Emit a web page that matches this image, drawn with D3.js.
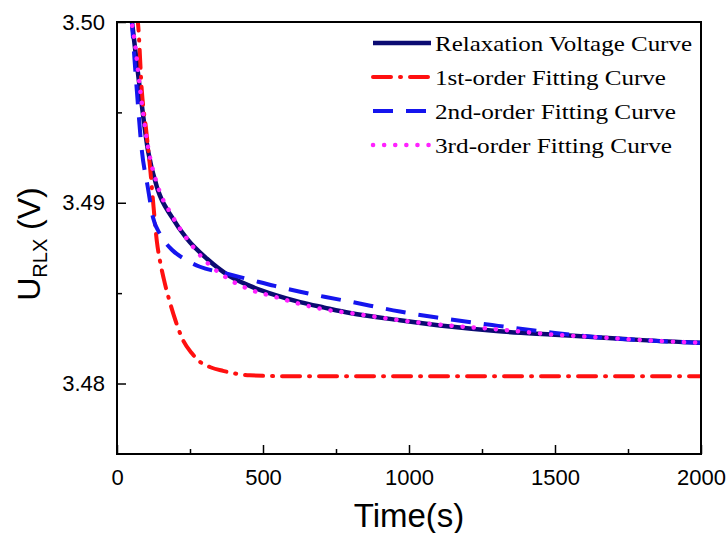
<!DOCTYPE html>
<html lang="en">
<head>
<meta charset="utf-8">
<title>Relaxation voltage fitting</title>
<script src="https://cdn.jsdelivr.net/npm/d3@7/dist/d3.min.js"></script>
<style>
    body { margin: 0; background: #fff; }
    .tick text { font-family: "Liberation Sans", Arial, sans-serif; }
    .legend text { font-family: "Liberation Serif", "DejaVu Serif", serif; }
</style>
</head>
<body>
<div id="chart"></div>
<script>

// ---- data ----
var relaxT = [50, 60, 79, 106, 140, 188, 240, 308, 380, 455, 540, 627, 710, 798, 969, 1140, 1300, 1500, 1654, 1800, 2000];
var relaxV = [3.5002, 3.4988, 3.4962, 3.4929, 3.4907, 3.4892, 3.4880, 3.4869, 3.4860, 3.4854, 3.4849, 3.4845, 3.4842, 3.4839, 3.4835, 3.48315, 3.4829, 3.4827, 3.48255, 3.4824, 3.48225];

var fit1T = [65, 72, 85, 100, 113, 125, 137, 147, 160, 181, 200, 226, 255, 284, 320, 363, 455, 600, 2000];
var fit1V = [3.5005, 3.4999, 3.4962, 3.4940, 3.4920, 3.4898, 3.4878, 3.4868, 3.4858, 3.4845, 3.4835, 3.4824, 3.4817, 3.4812, 3.4809, 3.4807, 3.48045, 3.4804, 3.4804];

var fit2T = [50, 68, 85, 105, 123, 150, 188, 230, 284, 370, 455, 540, 627, 710, 798, 969, 1096, 1300, 1500, 1654, 1800, 2000];
var fit2V = [3.5002, 3.4962, 3.4929, 3.4909, 3.4892, 3.4882, 3.4874, 3.4869, 3.48646, 3.4861, 3.48575, 3.4854, 3.48508, 3.4848, 3.48453, 3.48398, 3.48365, 3.4832, 3.4828, 3.48255, 3.4824, 3.48225];

var fit3T = [45, 60, 79, 106, 140, 188, 240, 308, 380, 455, 540, 627, 710, 798, 969, 1140, 1300, 1500, 1654, 1800, 2000];
var fit3V = [3.5004, 3.4990, 3.4963, 3.4931, 3.4909, 3.4893, 3.4880, 3.4867, 3.4858, 3.4852, 3.4848, 3.4844, 3.4841, 3.4839, 3.4835, 3.4832, 3.4830, 3.4827, 3.48255, 3.4824, 3.48225];

var seriesNames = ["Relaxation Voltage Curve", "1st-order Fitting Curve", "2nd-order Fitting Curve", "3rd-order Fitting Curve"];
var xTicks = [0, 500, 1000, 1500, 2000];
var xMinor = [250, 750, 1250, 1750];
var yTicks = [3.48, 3.49, 3.50];
var yMinor = [3.485, 3.495];

// ---- layout ----
var W = 726, H = 533;
var m = {left: 117, top: 22, right: 25, bottom: 79};
var w = W - m.left - m.right, h = H - m.top - m.bottom;

var svg = d3.select("#chart").append("svg")
    .attr("width", W).attr("height", H);

var x = d3.scaleLinear().domain([0, 2000]).range([0, w]);
var y = d3.scaleLinear().domain([3.4761, 3.50]).range([h, 0]);

var g = svg.append("g").attr("transform", "translate(" + m.left + "," + m.top + ")");

g.append("clipPath").attr("id", "clip")
  .append("rect").attr("width", w).attr("height", h);

// series styles
var styles = [
    {t: relaxT, v: relaxV, color: "#0b0b72", width: 4.5, dash: null, cap: "butt"},
    {t: fit1T, v: fit1V, color: "#ff1010", width: 4, dash: "18,9,1,9", cap: "round"},
    {t: fit2T, v: fit2V, color: "#1515ee", width: 4, dash: "20,13", cap: "butt"},
    {t: fit3T, v: fit3V, color: "#ff22ff", width: 4.5, dash: "0.1,11", cap: "round"}
];

var line = d3.line()
    .x(function(d) { return x(d[0]); })
    .y(function(d) { return y(d[1]); })
    .curve(d3.curveMonotoneX);

var curves = g.append("g").attr("clip-path", "url(#clip)");
styles.forEach(function(s) {
    curves.append("path")
        .datum(d3.zip(s.t, s.v))
        .attr("fill", "none")
        .attr("stroke", s.color)
        .attr("stroke-width", s.width)
        .attr("stroke-linecap", s.cap)
        .attr("stroke-dasharray", s.dash)
        .attr("d", line);
});

// axes, ticks inward
var fmt = d3.format(".2f");
var xAxis = g.append("g").attr("transform", "translate(0," + h + ")")
    .call(d3.axisBottom(x).tickValues(xTicks).tickSize(-9).tickPadding(15).tickFormat(d3.format("d")));
var xMin = g.append("g").attr("transform", "translate(0," + h + ")")
    .call(d3.axisBottom(x).tickValues(xMinor).tickSize(-5).tickFormat(""));
var yAxis = g.append("g")
    .call(d3.axisLeft(y).tickValues(yTicks).tickSize(-9).tickPadding(12).tickFormat(fmt));
var yMin = g.append("g")
    .call(d3.axisLeft(y).tickValues(yMinor).tickSize(-5).tickFormat(""));

[xAxis, xMin, yAxis, yMin].forEach(function(a) {
    a.select(".domain").remove();
    a.selectAll("line").attr("stroke", "#000").attr("stroke-width", 1.5);
    a.selectAll("text").attr("font-size", 22).attr("fill", "#000");
});

// frame
g.append("rect")
    .attr("width", w).attr("height", h)
    .attr("fill", "none").attr("stroke", "#000").attr("stroke-width", 2);

// axis titles
svg.append("text")
    .attr("x", m.left + w / 2).attr("y", 527)
    .attr("text-anchor", "middle")
    .attr("font-family", "Liberation Sans, Arial, sans-serif")
    .attr("font-size", 33)
    .text("Time(s)");

var yt = svg.append("text")
    .attr("transform", "translate(40," + (m.top + h / 2 + 6) + ") rotate(-90)")
    .attr("text-anchor", "middle")
    .attr("font-family", "Liberation Sans, Arial, sans-serif")
    .attr("font-size", 32);
yt.append("tspan").text("U");
yt.append("tspan").attr("font-size", 20).attr("dy", 7).text("RLX");
yt.append("tspan").attr("dy", -7).text(" (V)");

// legend
var legend = svg.append("g").attr("class", "legend");
var rowY = [43, 77, 111, 145];
var textLen = [257, 231, 241, 237];
styles.forEach(function(s, i) {
    legend.append("line")
        .attr("x1", 373).attr("x2", 431)
        .attr("y1", rowY[i]).attr("y2", rowY[i])
        .attr("stroke", s.color)
        .attr("stroke-width", s.width)
        .attr("stroke-linecap", s.cap)
        .attr("stroke-dasharray", s.dash);
    legend.append("text")
        .attr("x", 435).attr("y", rowY[i] + 8)
        .attr("font-size", 22)
        .attr("textLength", textLen[i])
        .attr("lengthAdjust", "spacingAndGlyphs")
        .text(seriesNames[i]);
});

</script>
</body>
</html>
